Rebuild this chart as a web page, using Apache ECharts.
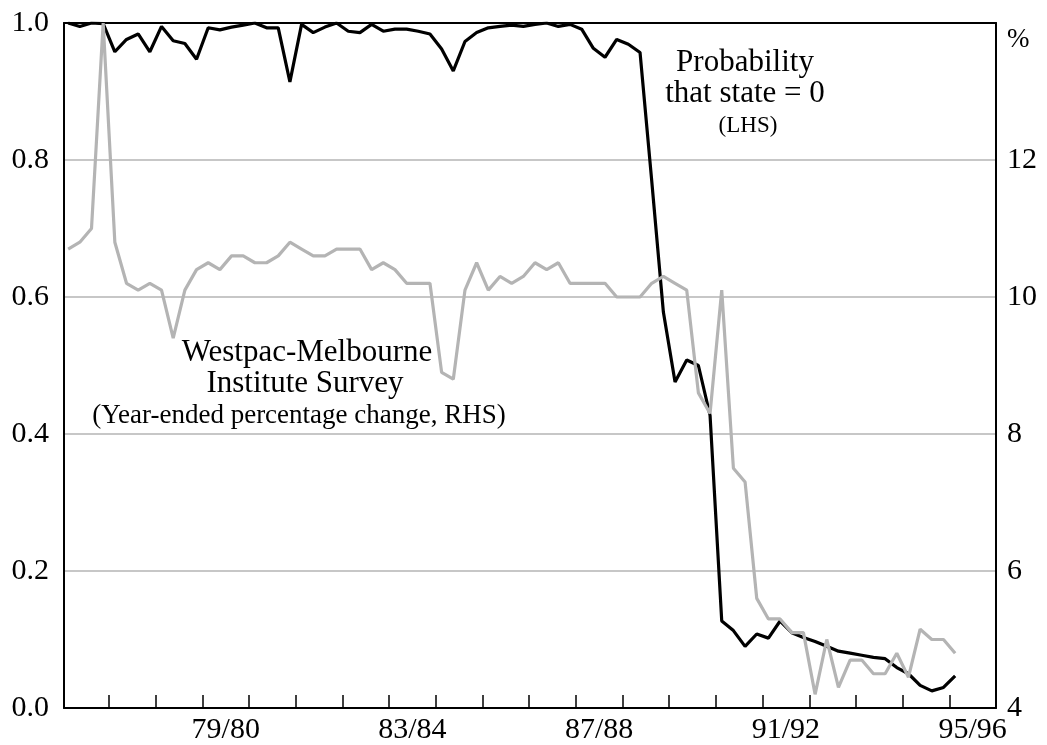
<!DOCTYPE html>
<html>
<head>
<meta charset="utf-8">
<script src="https://cdn.jsdelivr.net/npm/echarts@6/dist/echarts.min.js"></script>
<style>
html,body{margin:0;padding:0;background:#fff;}
#chart{width:1047px;height:745px;}
</style>
</head>
<body>
<div id="chart"></div>
<script>
// Quarterly observations (plotted at the middle of each quarter)
const quarters = [
  '1976Q3','1976Q4',
  '1977Q1','1977Q2','1977Q3','1977Q4',
  '1978Q1','1978Q2','1978Q3','1978Q4',
  '1979Q1','1979Q2','1979Q3','1979Q4',
  '1980Q1','1980Q2','1980Q3','1980Q4',
  '1981Q1','1981Q2','1981Q3','1981Q4',
  '1982Q1','1982Q2','1982Q3','1982Q4',
  '1983Q1','1983Q2','1983Q3','1983Q4',
  '1984Q1','1984Q2','1984Q3','1984Q4',
  '1985Q1','1985Q2','1985Q3','1985Q4',
  '1986Q1','1986Q2','1986Q3','1986Q4',
  '1987Q1','1987Q2','1987Q3','1987Q4',
  '1988Q1','1988Q2','1988Q3','1988Q4',
  '1989Q1','1989Q2','1989Q3','1989Q4',
  '1990Q1','1990Q2','1990Q3','1990Q4',
  '1991Q1','1991Q2','1991Q3','1991Q4',
  '1992Q1','1992Q2','1992Q3','1992Q4',
  '1993Q1','1993Q2','1993Q3','1993Q4',
  '1994Q1','1994Q2','1994Q3','1994Q4',
  '1995Q1','1995Q2','1995Q3'
];

// Probability that state = 0 (LHS)
const probabilityState0 = [
  1.000, 0.995, 1.000, 0.999, 0.958, 0.976, 0.984, 0.958, 0.995, 0.974,
  0.970, 0.947, 0.993, 0.990, 0.994, 0.997, 1.000, 0.993, 0.993, 0.914,
  0.998, 0.986, 0.994, 1.000, 0.988, 0.986, 0.998, 0.988, 0.991, 0.991,
  0.988, 0.984, 0.962, 0.930, 0.973, 0.986, 0.993, 0.995, 0.997, 0.995,
  0.998, 1.000, 0.995, 0.998, 0.991, 0.963, 0.950, 0.976, 0.969, 0.957,
  0.770, 0.578, 0.476, 0.508, 0.500, 0.427, 0.127, 0.113, 0.090, 0.108,
  0.102, 0.127, 0.110, 0.103, 0.097, 0.090, 0.083, 0.080, 0.077, 0.074,
  0.072, 0.059, 0.050, 0.033, 0.025, 0.030, 0.047
];

// Westpac-Melbourne Institute Survey, year-ended % change (RHS)
const westpacSurvey = [
  10.7, 10.8, 11.0, 14.0, 10.8, 10.2, 10.1, 10.2, 10.1, 9.4,
  10.1, 10.4, 10.5, 10.4, 10.6, 10.6, 10.5, 10.5, 10.6, 10.8,
  10.7, 10.6, 10.6, 10.7, 10.7, 10.7, 10.4, 10.5, 10.4, 10.2,
  10.2, 10.2, 8.9, 8.8, 10.1, 10.5, 10.1, 10.3, 10.2, 10.3,
  10.5, 10.4, 10.5, 10.2, 10.2, 10.2, 10.2, 10.0, 10.0, 10.0,
  10.2, 10.3, 10.2, 10.1, 8.6, 8.3, 10.1, 7.5, 7.3, 5.6,
  5.3, 5.3, 5.1, 5.1, 4.2, 5.0, 4.3, 4.7, 4.7, 4.5,
  4.5, 4.8, 4.45, 5.15, 5.0, 5.0, 4.8
];

// Financial-year tick labels (centred on each financial year)
const xTickLabels = ['79/80', '83/84', '87/88', '91/92', '95/96'];
const leftTicks = [0, 0.2, 0.4, 0.6, 0.8, 1.0];
const rightTicks = [4, 6, 8, 10, 12, 14];
const rightUnit = '%';

// ---- derived helpers ----
function quarterToYear(q) {
  const y = parseInt(q.slice(0, 4), 10);
  const n = parseInt(q.slice(5), 10);
  return y + (n - 1) * 0.25 + 0.125;
}
function fyLabelToMid(lbl) {
  const end = parseInt(lbl.split('/')[1], 10);
  return 1900 + end; // middle of financial year = 1 January
}
const xVals = quarters.map(quarterToYear);
const labelPos = xTickLabels.map(fyLabelToMid);
const labelMap = {};
labelPos.forEach((p, i) => { labelMap[p.toFixed(3)] = xTickLabels[i]; });
// Tick marks at the start of each financial year (1 July)
const fyStarts = [];
for (let y = 1977; y <= 1995; y++) fyStarts.push(y + 0.5);

const FONT = '"Liberation Serif", "Times New Roman", serif';
const GRAY = '#b4b4b4';

const chart = echarts.init(document.getElementById('chart'), null, { renderer: 'canvas' });
chart.setOption({
  animation: false,
  backgroundColor: '#fff',
  grid: { left: 64, right: 51, top: 23, bottom: 36, containLabel: false },
  xAxis: [{
    type: 'value',
    min: 1976.536,
    max: 1996.5,
    axisLine: { show: true, onZero: false, lineStyle: { color: '#000', width: 2 } },
    axisTick: { show: true, inside: true, length: 13, customValues: fyStarts, lineStyle: { color: '#000', width: 1.5 } },
    axisLabel: {
      show: true, customValues: labelPos, margin: 7,
      fontFamily: FONT, fontSize: 30, color: '#000',
      formatter: v => labelMap[Number(v).toFixed(3)] || ''
    },
    splitLine: { show: false }
  }, {
    type: 'value',
    position: 'top',
    min: 1976.536,
    max: 1996.5,
    axisLine: { show: true, onZero: false, lineStyle: { color: '#000', width: 2 } },
    axisTick: { show: false },
    axisLabel: { show: false },
    splitLine: { show: false }
  }],
  yAxis: [{
    type: 'value',
    min: leftTicks[0], max: leftTicks[leftTicks.length - 1], interval: 0.2,
    position: 'left',
    axisLine: { show: true, lineStyle: { color: '#000', width: 2 } },
    axisTick: { show: false },
    axisLabel: { fontFamily: FONT, fontSize: 30, color: '#000', margin: 15, formatter: v => v.toFixed(1) },
    splitLine: { show: true, lineStyle: { color: GRAY, width: 1.5 } }
  }, {
    type: 'value',
    min: rightTicks[0], max: rightTicks[rightTicks.length - 1], interval: 2,
    position: 'right',
    axisLine: { show: true, lineStyle: { color: '#000', width: 2 } },
    axisTick: { show: false },
    axisLabel: {
      fontFamily: FONT, fontSize: 30, color: '#000', margin: 11,
      formatter: v => (v === rightTicks[rightTicks.length - 1] ? '{u|' + rightUnit + '}' : String(v)),
      rich: { u: { fontFamily: FONT, fontSize: 27, color: '#000', padding: [34, 0, 0, 0] } }
    },
    splitLine: { show: false }
  }],
  series: [{
    name: 'Probability that state = 0',
    type: 'line',
    xAxisIndex: 0, yAxisIndex: 0,
    showSymbol: false, symbol: 'none',
    lineStyle: { color: '#000', width: 3.2 },
    data: xVals.map((x, i) => [x, probabilityState0[i]]),
    z: 3
  }, {
    name: 'Westpac-Melbourne Institute Survey',
    type: 'line',
    xAxisIndex: 0, yAxisIndex: 1,
    showSymbol: false, symbol: 'none',
    lineStyle: { color: GRAY, width: 3.2 },
    data: xVals.map((x, i) => [x, westpacSurvey[i]]),
    z: 4
  }],
  graphic: [
    { type: 'text', x: 745, y: 63, z: 10, style: { text: 'Probability', font: '31px ' + FONT, fill: '#000', align: 'center', verticalAlign: 'middle', textAlign: 'center', textVerticalAlign: 'middle' } },
    { type: 'text', x: 745, y: 94, z: 10, style: { text: 'that state = 0', font: '31px ' + FONT, fill: '#000', align: 'center', verticalAlign: 'middle', textAlign: 'center', textVerticalAlign: 'middle' } },
    { type: 'text', x: 748, y: 126, z: 10, style: { text: '(LHS)', font: '23px ' + FONT, fill: '#000', align: 'center', verticalAlign: 'middle', textAlign: 'center', textVerticalAlign: 'middle' } },
    { type: 'text', x: 307, y: 353, z: 10, style: { text: 'Westpac-Melbourne', font: '31px ' + FONT, fill: '#000', align: 'center', verticalAlign: 'middle', textAlign: 'center', textVerticalAlign: 'middle' } },
    { type: 'text', x: 305, y: 384, z: 10, style: { text: 'Institute Survey', font: '31px ' + FONT, fill: '#000', align: 'center', verticalAlign: 'middle', textAlign: 'center', textVerticalAlign: 'middle' } },
    { type: 'text', x: 299, y: 416, z: 10, style: { text: '(Year-ended percentage change, RHS)', font: '27px ' + FONT, fill: '#000', align: 'center', verticalAlign: 'middle', textAlign: 'center', textVerticalAlign: 'middle' } }
  ]
});
</script>
</body>
</html>
